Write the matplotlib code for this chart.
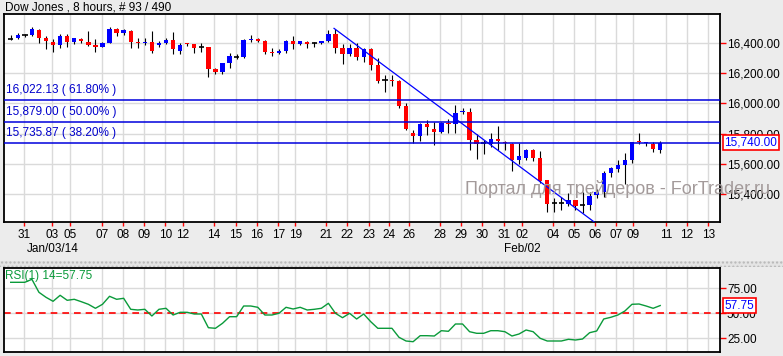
import matplotlib.pyplot as plt
import matplotlib.transforms as mtransforms
from matplotlib.patches import Rectangle
import numpy as np

# 8-hour bars, Dow Jones
opens = [16427, 16433, 16449, 16453, 16484, 16429, 16407, 16387, 16444, 16407,
         16425, 16405, 16385, 16374, 16400, 16491, 16466, 16477, 16407, 16398,
         16405, 16383, 16396, 16418, 16348, 16398, 16392, 16370, 16374, 16227,
         16209, 16268, 16308, 16308, 16418, 16425, 16411, 16341, 16330, 16345,
         16411, 16392, 16407, 16396, 16396, 16411, 16458, 16367, 16325, 16367,
         16308, 16356, 16253, 16153, 16153, 16147, 15984, 15805, 15783, 15863,
         15830, 15812, 15871, 15865, 15940, 15942, 15757, 15735, 15730, 15762,
         15746, 15732, 15628, 15638, 15690, 15637, 15492, 15338, 15338, 15336,
         15360, 15327, 15327, 15391, 15415, 15541, 15563, 15591, 15625, 15750,
         15735, 15730, 15690]
highs = [16451, 16462, 16458, 16502, 16491, 16447, 16422, 16458, 16455, 16433,
         16429, 16477, 16422, 16405, 16506, 16499, 16488, 16484, 16431, 16429,
         16477, 16411, 16429, 16469, 16400, 16398, 16392, 16396, 16374, 16235,
         16268, 16330, 16323, 16425, 16451, 16429, 16418, 16363, 16356, 16418,
         16444, 16413, 16411, 16407, 16413, 16484, 16491, 16391, 16391, 16396,
         16363, 16363, 16297, 16187, 16187, 16153, 16004, 15823, 15867, 15889,
         15878, 15878, 15893, 15988, 15968, 15970, 15799, 15757, 15804, 15848,
         15752, 15735, 15738, 15698, 15698, 15685, 15492, 15371, 15380, 15407,
         15360, 15415, 15415, 15431, 15554, 15580, 15624, 15669, 15746, 15805,
         15741, 15741, 15750]
lows = [16418, 16422, 16440, 16444, 16396, 16356, 16341, 16363, 16374, 16392,
        16400, 16381, 16341, 16370, 16396, 16447, 16451, 16367, 16363, 16385,
        16330, 16374, 16389, 16328, 16323, 16378, 16334, 16341, 16172, 16191,
        16191, 16235, 16293, 16301, 16407, 16403, 16326, 16312, 16326, 16330,
        16361, 16385, 16367, 16374, 16392, 16403, 16334, 16257, 16312, 16286,
        16275, 16220, 16131, 16076, 16116, 15966, 15823, 15739, 15753, 15790,
        15724, 15801, 15801, 15803, 15930, 15693, 15632, 15663, 15712, 15688,
        15690, 15550, 15597, 15622, 15616, 15470, 15280, 15280, 15292, 15320,
        15294, 15272, 15294, 15371, 15378, 15510, 15547, 15466, 15603, 15730,
        15717, 15680, 15673]
closes = [16427, 16453, 16449, 16491, 16433, 16409, 16385, 16444, 16405, 16429,
          16411, 16387, 16374, 16398, 16491, 16466, 16486, 16407, 16400, 16407,
          16345, 16400, 16418, 16361, 16383, 16392, 16367, 16370, 16227, 16205,
          16268, 16312, 16308, 16418, 16425, 16411, 16337, 16330, 16348, 16411,
          16392, 16411, 16392, 16396, 16411, 16458, 16367, 16325, 16367, 16308,
          16356, 16253, 16147, 16153, 16147, 15984, 15830, 15783, 15863, 15841,
          15812, 15871, 15863, 15933, 15947, 15759, 15729, 15735, 15763, 15751,
          15735, 15622, 15651, 15690, 15637, 15486, 15336, 15338, 15338, 15360,
          15323, 15327, 15387, 15413, 15541, 15569, 15591, 15625, 15741, 15741,
          15741, 15695, 15740]

rsi = [81, 81, 81, 84, 71, 66, 62, 68, 63, 64,
       61.6, 59, 55, 59, 67, 64, 65, 54, 53.3, 54,
       47.3, 54, 55, 48.3, 51, 51, 49.3, 49.3, 35.6, 35,
       40, 46.6, 46.6, 57.3, 57.3, 56, 48.3, 48.3, 50, 56,
       54.3, 56, 53.3, 54, 55, 60, 50, 45.6, 50, 44.3,
       49.3, 41.6, 35, 35, 35, 26, 22.3, 21.6, 27.6, 27.6,
       27.3, 32.6, 32, 39.3, 39.3, 31.6, 30, 30, 32.6, 32.6,
       31.6, 27.3, 29.3, 33.3, 31.6, 25, 22.3, 22.3, 22.3, 24,
       23.3, 24.3, 30.6, 32.3, 44.3, 46, 48.3, 52.3, 59, 59.3,
       57.3, 55, 57.75]

# day labels, positioned in bar units
tick_pos = [1.9, 5.9, 8.4, 12.9, 15.9, 18.9, 21.9, 24.4, 28.8, 31.9,
            34.9, 37.9, 40.3, 44.7, 47.6, 50.7, 53.6, 56.4, 60.8, 63.8,
            66.8, 69.9, 72.4, 76.8, 79.8, 82.8, 85.7, 88.1, 92.8, 95.8, 98.8]
tick_labels = ["31", "03", "05", "07", "08", "09", "10", "12", "14", "15",
               "16", "17", "19", "21", "22", "23", "24", "26", "28", "29",
               "30", "31", "02", "04", "05", "06", "07", "09", "11", "12", "13"]
month_labels = ["Jan/03/14", "Feb/02"]
month_pos = [5.9, 72.4]

price_ticks = [15400, 15600, 15800, 16000, 16200, 16400]
rsi_ticks = [25, 50, 75]
fib_levels = [16022.13, 15879.00, 15735.87]
fib_pcts = ["61.80%", "50.00%", "38.20%"]
trend_x = [45.8, 82.8]
trend_y = [16495, 15210]
last_price = 15740.00
last_rsi = 57.75

plt.rcParams['font.family'] = ['Liberation Sans', 'DejaVu Sans']
plt.rcParams['font.size'] = 8

W, H = 783, 356
bg = '#ececec'
fig = plt.figure(figsize=(W / 100, H / 100), dpi=100, facecolor=bg)
ax = fig.add_axes([4 / W, 1 - 222 / H, 716 / W, 208 / H])
rx = fig.add_axes([4 / W, 1 - 352 / H, 716 / W, 84 / H], sharex=ax)

x = np.arange(len(opens))
o = np.array(opens); c = np.array(closes)
h = np.array(highs); l = np.array(lows)

# wicks
ax.vlines(x, l, h, color='black', lw=0.8, zorder=2)
up = c > o
down = c < o
flat = c == o
body = np.maximum(np.abs(c - o), 6)
ax.bar(x[up], body[up], bottom=o[up], width=0.62, color='#0000ff', lw=0, zorder=3)
ax.bar(x[down], body[down], bottom=c[down], width=0.62, color='#ff0000', lw=0, zorder=3)
ax.hlines(o[flat], x[flat] - 0.38, x[flat] + 0.38, color='black', lw=1.2, zorder=3)

# trend line and fibo levels
ax.plot(trend_x, trend_y, color='#0000ff', lw=0.9, zorder=4)
tr = mtransforms.blended_transform_factory(ax.transAxes, ax.transData)
for lev, pct in zip(fib_levels, fib_pcts):
    ax.axhline(lev, color='#0000dd', lw=1.1, zorder=4)
    ax.annotate(f"{lev:,.2f} ( {pct} )", xy=(0.003, lev), xycoords=tr,
                xytext=(0, 4), textcoords='offset pixels', va='bottom',
                color='#0000cc', fontsize=8.5)

ax.set_xlim(-0.95, 100.47)
ax.set_ylim(15215, 16590)
ax.yaxis.tick_right()
ax.set_yticks(price_ticks)
ax.set_yticklabels([f"{v:,.2f}" for v in price_ticks])
ax.set_xticks(tick_pos)
ax.set_xticklabels(tick_labels)
ax.tick_params(axis='y', direction='out', length=4, width=1, color='red', pad=1, labelsize=8.5)
ax.tick_params(axis='x', direction='out', length=3, width=1, color='red', pad=2, labelsize=8.5)
ax.grid(True, color='#dadada', lw=1)
ax.set_axisbelow(True)

ax.text(1.006, last_price, f"{last_price:,.2f}", transform=tr, va='center', ha='left',
        color='#0000ff', fontsize=8.5, clip_on=False, zorder=10,
        bbox=dict(boxstyle='square,pad=0.15', fc='white', ec='red', lw=1.2))

xtr = mtransforms.blended_transform_factory(ax.transData, ax.transAxes)
for lab, pos in zip(month_labels, month_pos):
    ax.text(pos, -0.13, lab, transform=xtr, ha='center', va='center', fontsize=8.5)

# RSI panel
rx.plot(x, rsi, color='#0a9a3a', lw=1, zorder=3)
rx.axhline(50, color='red', lw=1.2, ls=(0, (4, 3)), zorder=2)
rx.set_ylim(11.3, 95.3)
rx.yaxis.tick_right()
rx.set_yticks(rsi_ticks)
rx.set_yticklabels([f"{v:.2f}" for v in rsi_ticks])
rx.tick_params(axis='y', direction='out', length=4, width=1, color='red', pad=1, labelsize=8.5)
rx.tick_params(axis='x', length=0, labelbottom=False)
rx.grid(True, color='#dadada', lw=1)
rx.set_axisbelow(True)
rx.text(0.002, 0.98, f"RSI(1) 14={last_rsi:.2f}", transform=rx.transAxes, va='top',
        color='#0a9a3a', fontsize=8.5)
rtr = mtransforms.blended_transform_factory(rx.transAxes, rx.transData)
rx.text(1.006, last_rsi, f"{last_rsi:.2f}", transform=rtr, va='center', ha='left',
        color='#0000ff', fontsize=8.5, clip_on=False, zorder=10,
        bbox=dict(boxstyle='square,pad=0.15', fc='white', ec='red', lw=1.2))

for a in (ax, rx):
    a.set_facecolor('white')
    for s in a.spines.values():
        s.set_color('black')
        s.set_linewidth(1.3)

fig.text(5 / W, 1 - 8 / H, "Dow Jones , 8 hours, # 93 / 490", va='center', fontsize=8.5)

# splitter strip between the panels
fig.patches.append(Rectangle((0, 1 - 267 / H), 1, 6 / H, transform=fig.transFigure,
                             facecolor='#e4e4e4', edgecolor='#b8b8b8', hatch='....', lw=0))

fig.text(465 / W, 1 - 194 / H, "Портал для трейдеров - ForTrader.ru", va='baseline',
         fontsize=13, color='#a39a9a', zorder=20)

fig.savefig('out.png', dpi=100, facecolor=bg)
